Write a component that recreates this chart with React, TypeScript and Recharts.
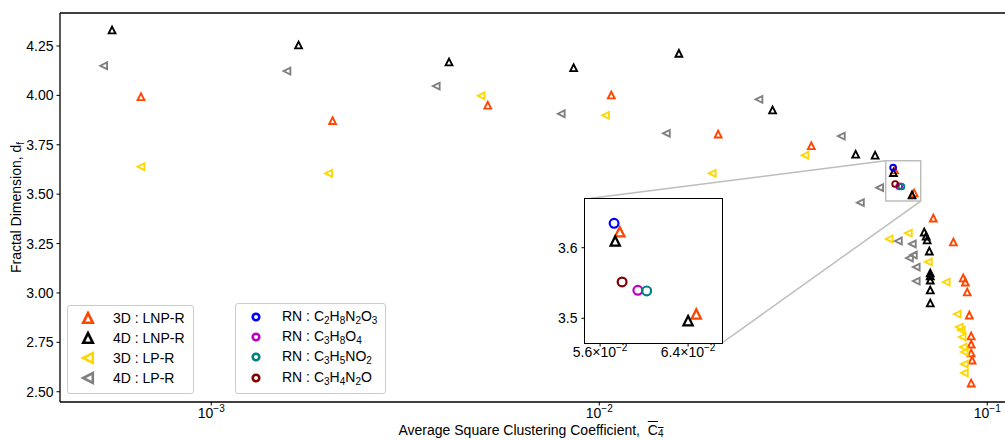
import React from 'react';
import { ScatterChart, Scatter, XAxis, YAxis, ReferenceArea, ReferenceLine } from 'recharts';

const FONT = '"Liberation Sans", Arial, Helvetica, sans-serif';

// ---------- data ----------
const lnp3dX = [6.59e-4, 2.054e-3, 5.16e-3, 0.01074, 0.02025, 0.0352, 0.0577, 0.0648, 0.0726, 0.0818, 0.0867, 0.0878, 0.0888, 0.0899, 0.0909, 0.0909, 0.0909, 0.0914, 0.0909];
const lnp3dY = [3.993, 3.872, 3.95, 4.002, 3.804, 3.745, 3.6226, 3.5061, 3.379, 3.258, 3.076, 3.055, 3.005, 2.888, 2.782, 2.741, 2.696, 2.66, 2.544];

const lnp4dX = [5.55e-4, 1.679e-3, 4.1e-3, 8.59e-3, 0.01604, 0.02797, 0.0458, 0.0514, 0.0573, 0.064, 0.0688, 0.0696, 0.07, 0.0709, 0.0713, 0.0713, 0.0713, 0.0713, 0.0713];
const lnp4dY = [4.331, 4.255, 4.169, 4.14, 4.213, 3.926, 3.702, 3.697, 3.6095, 3.4966, 3.308, 3.288, 3.268, 3.212, 3.101, 3.086, 3.065, 3.015, 2.949];

const lp3dX = [6.59e-4, 2.006e-3, 4.96e-3, 0.01038, 0.01955, 0.0339, 0.0559, 0.0626, 0.0705, 0.0784, 0.0837, 0.0847, 0.0857, 0.0862, 0.0867, 0.0873, 0.0873, 0.0873];
const lp3dY = [3.639, 3.605, 3.998, 3.899, 3.605, 3.697, 3.273, 3.303, 3.157, 3.055, 2.893, 2.827, 2.812, 2.777, 2.726, 2.701, 2.64, 2.595];

const lp4dX = [5.28e-4, 1.567e-3, 3.8e-3, 7.98e-3, 0.01489, 0.0258, 0.04205, 0.0528, 0.0471, 0.059, 0.0641, 0.0645, 0.063, 0.0656, 0.0656];
const lp4dY = [4.15, 4.123, 4.047, 3.907, 3.808, 3.98, 3.794, 3.533, 3.457, 3.263, 3.248, 3.192, 3.177, 3.131, 3.06];

const rnFormulas = ['C2H8N2O3', 'C3H8O4', 'C3H5NO2', 'C3H4N2O'];
const rnX = [0.0572, 0.0593, 0.0601, 0.0579];
const rnY = [3.6345, 3.5397, 3.5388, 3.5515];
const rnColors = ['#0000ff', '#bf00bf', '#008080', '#800000'];

const seriesLabels = ['3D : LNP-R', '4D : LNP-R', '3D : LP-R', '4D : LP-R'];
const seriesColors = ['#ff4500', '#000000', '#ffd700', '#808080'];
const seriesShapes = ['up', 'up', 'left', 'left'];

const mainXDomain = [4.075e-4, 0.1111];
const mainYDomain = [2.448, 4.417];
const mainXTicks = [0.001, 0.01, 0.1];
const mainYTicks = [2.5, 2.75, 3.0, 3.25, 3.5, 3.75, 4.0, 4.25];

const insetXDomain = [0.05473, 0.06738];
const insetYDomain = [3.465, 3.669];
const insetXTicks = [0.056, 0.064];
const insetYTicks = [3.5, 3.6];

// ---------- layout ----------
const W = 1005;
const H = 440;
const MAIN = { left: 60, top: 13, right: 1005, bottom: 402 };
const INSET = { left: 585, top: 199, right: 722, bottom: 343 };
const INSET_CHART = { left: 535, top: 190, width: 200, height: 190 };

const zip = (xs: number[], ys: number[]) => xs.map((x, i) => ({ x, y: ys[i] }));
const seriesData = [zip(lnp3dX, lnp3dY), zip(lnp4dX, lnp4dY), zip(lp3dX, lp3dY), zip(lp4dX, lp4dY)];
const rnData = rnX.map((x, i) => [{ x, y: rnY[i] }]);

// convert a page pixel into main-chart data coordinates (for connector lines)
const pxToMain = (px: number, py: number) => {
  const l0 = Math.log10(mainXDomain[0]);
  const l1 = Math.log10(mainXDomain[1]);
  const x = Math.pow(10, l0 + ((px - MAIN.left) / (MAIN.right - MAIN.left)) * (l1 - l0));
  const y = mainYDomain[1] - ((py - MAIN.top) / (MAIN.bottom - MAIN.top)) * (mainYDomain[1] - mainYDomain[0]);
  return { x, y };
};

// ---------- marker shapes ----------
const triPath = (kind: string, cx: number, cy: number, r: number) =>
  kind === 'up'
    ? `M${cx},${cy - r}L${cx + r},${cy + r}L${cx - r},${cy + r}Z`
    : `M${cx - r},${cy}L${cx + r},${cy - r}L${cx + r},${cy + r}Z`;

const makeTri = (kind: string, color: string, r: number, sw: number) => (props: any) => {
  const { cx, cy } = props;
  if (cx == null || cy == null) return <g />;
  return <path d={triPath(kind, cx, cy, r)} fill="none" stroke={color} strokeWidth={sw} strokeLinejoin="miter" />;
};

const makeCircle = (color: string, r: number, sw: number) => (props: any) => {
  const { cx, cy } = props;
  if (cx == null || cy == null) return <g />;
  return <circle cx={cx} cy={cy} r={r} fill="none" stroke={color} strokeWidth={sw} />;
};

// ---------- ticks ----------
const PowTick = (props: any) => {
  const { x, y, payload } = props;
  const exp = Math.round(Math.log10(payload.value));
  return (
    <text x={x} y={y + 9} textAnchor="middle" fontSize={14} fontFamily={FONT} fill="#000">
      <tspan>10</tspan>
      <tspan dy={-6} fontSize={10}>{'\u2212' + Math.abs(exp)}</tspan>
    </text>
  );
};

const SciTick = (props: any) => {
  const { x, y, payload } = props;
  const v = payload.value;
  const exp = Math.floor(Math.log10(v) + 1e-9);
  const mant = (v / Math.pow(10, exp)).toFixed(1);
  return (
    <text x={x} y={y + 8} textAnchor="middle" fontSize={14} fontFamily={FONT} fill="#000">
      <tspan>{mant + '\u00d710'}</tspan>
      <tspan dy={-6} fontSize={10}>{'\u2212' + Math.abs(exp)}</tspan>
    </text>
  );
};

const formula = (f: string) =>
  f
    .split(/(\d+)/)
    .filter(Boolean)
    .map((part, i) =>
      /\d/.test(part) ? (
        <span key={i} style={{ fontSize: 10, position: 'relative', top: 3 }}>{part}</span>
      ) : (
        <span key={i}>{part}</span>
      )
    );

const tickStyle = { fill: '#000', fontSize: 14, fontFamily: FONT };
const axisLineStyle = { stroke: '#000', strokeWidth: 1.3 };
const tickLineStyle = { stroke: '#000', strokeWidth: 1 };

export default function App() {
  const c1 = pxToMain(INSET.left, INSET.top);
  const c2 = pxToMain(INSET.right, INSET.bottom);
  const legend1Rows = [318, 338, 358, 378];
  const legend2Rows = [317, 337, 357, 378];

  return (
    <div style={{ position: 'absolute', left: 0, top: 0, width: W, height: H, background: '#fff', fontFamily: FONT, overflow: 'hidden' }}>
      {/* main chart */}
      <div style={{ position: 'absolute', left: 0, top: 0 }}>
        <ScatterChart width={W} height={H} margin={{ top: MAIN.top, right: W - MAIN.right, bottom: 0, left: 0 }}>
          <XAxis
            dataKey="x"
            type="number"
            scale="log"
            domain={mainXDomain}
            allowDataOverflow
            ticks={mainXTicks}
            tick={<PowTick />}
            height={H - MAIN.bottom}
            tickSize={3.5}
            tickMargin={3}
            axisLine={axisLineStyle}
            tickLine={tickLineStyle}
            interval={0}
          />
          <YAxis
            dataKey="y"
            type="number"
            domain={mainYDomain}
            allowDataOverflow
            ticks={mainYTicks}
            tickFormatter={(v: number) => v.toFixed(2)}
            tick={tickStyle}
            width={MAIN.left}
            tickSize={3.5}
            tickMargin={3}
            axisLine={axisLineStyle}
            tickLine={tickLineStyle}
            interval={0}
          />
          <ReferenceLine y={mainYDomain[1]} stroke="#000" strokeWidth={1.3} />
          <ReferenceArea
            x1={insetXDomain[0]}
            x2={insetXDomain[1]}
            y1={insetYDomain[0]}
            y2={insetYDomain[1]}
            fill="none"
            fillOpacity={0}
            stroke="#bdbdbd"
            strokeWidth={1.5}
          />
          <ReferenceLine
            segment={[{ x: insetXDomain[0], y: insetYDomain[1] }, { x: c1.x, y: c1.y }]}
            stroke="#bdbdbd"
            strokeWidth={1.5}
          />
          <ReferenceLine
            segment={[{ x: insetXDomain[1], y: insetYDomain[0] }, { x: c2.x, y: c2.y }]}
            stroke="#bdbdbd"
            strokeWidth={1.5}
          />
          {seriesData.map((d, i) => (
            <Scatter
              key={seriesLabels[i]}
              name={seriesLabels[i]}
              data={d}
              isAnimationActive={false}
              shape={makeTri(seriesShapes[i], seriesColors[i], 3.4, 1.9)}
            />
          ))}
          {rnData.map((d, i) => (
            <Scatter
              key={rnFormulas[i]}
              name={rnFormulas[i]}
              data={d}
              isAnimationActive={false}
              shape={makeCircle(rnColors[i], 2.9, 1.9)}
            />
          ))}
        </ScatterChart>
      </div>

      {/* inset background / frame */}
      <div
        style={{
          position: 'absolute',
          left: INSET.left - 0.65,
          top: INSET.top - 0.65,
          width: INSET.right - INSET.left + 1.3,
          height: INSET.bottom - INSET.top + 1.3,
          boxSizing: 'border-box',
          border: '1.3px solid #000',
          background: '#fff',
        }}
      />

      {/* inset chart */}
      <div style={{ position: 'absolute', left: INSET_CHART.left, top: INSET_CHART.top }}>
        <ScatterChart
          width={INSET_CHART.width}
          height={INSET_CHART.height}
          margin={{
            top: INSET.top - INSET_CHART.top,
            right: INSET_CHART.left + INSET_CHART.width - INSET.right,
            bottom: 0,
            left: 0,
          }}
        >
          <XAxis
            dataKey="x"
            type="number"
            scale="log"
            domain={insetXDomain}
            allowDataOverflow
            ticks={insetXTicks}
            tick={<SciTick />}
            height={INSET_CHART.top + INSET_CHART.height - INSET.bottom}
            tickSize={3.5}
            tickMargin={2}
            axisLine={false}
            tickLine={tickLineStyle}
            interval={0}
          />
          <YAxis
            dataKey="y"
            type="number"
            domain={insetYDomain}
            allowDataOverflow
            ticks={insetYTicks}
            tickFormatter={(v: number) => v.toFixed(1)}
            tick={tickStyle}
            width={INSET.left - INSET_CHART.left}
            tickSize={3.5}
            tickMargin={4}
            axisLine={false}
            tickLine={tickLineStyle}
            interval={0}
          />
          {seriesData.slice(0, 2).map((d, i) => (
            <Scatter
              key={seriesLabels[i]}
              data={d.filter((p) => p.x >= insetXDomain[0] && p.x <= insetXDomain[1] && p.y >= insetYDomain[0] && p.y <= insetYDomain[1])}
              isAnimationActive={false}
              shape={makeTri(seriesShapes[i], seriesColors[i], 4.6, 2.3)}
            />
          ))}
          {rnData.map((d, i) => (
            <Scatter
              key={rnFormulas[i]}
              data={d}
              isAnimationActive={false}
              shape={makeCircle(rnColors[i], 4.4, 2.2)}
            />
          ))}
        </ScatterChart>
      </div>

      {/* legend 1 */}
      <div
        style={{
          position: 'absolute',
          left: 67,
          top: 305,
          width: 127,
          height: 89,
          boxSizing: 'border-box',
          border: '1px solid #cccccc',
          borderRadius: 3,
          background: 'rgba(255,255,255,0.8)',
        }}
      />
      {seriesLabels.map((lab, i) => (
        <React.Fragment key={lab}>
          <svg style={{ position: 'absolute', left: 80, top: legend1Rows[i] - 8 }} width={16} height={16}>
            <path d={triPath(seriesShapes[i], 8, 8, 4.8)} fill="none" stroke={seriesColors[i]} strokeWidth={2.6} />
          </svg>
          <div style={{ position: 'absolute', left: 113, top: legend1Rows[i] - 8, height: 16, lineHeight: '16px', fontSize: 14, color: '#000', whiteSpace: 'nowrap' }}>
            {lab}
          </div>
        </React.Fragment>
      ))}

      {/* legend 2 */}
      <div
        style={{
          position: 'absolute',
          left: 235,
          top: 303,
          width: 151,
          height: 91,
          boxSizing: 'border-box',
          border: '1px solid #cccccc',
          borderRadius: 3,
          background: 'rgba(255,255,255,0.8)',
        }}
      />
      {rnFormulas.map((f, i) => (
        <React.Fragment key={f}>
          <svg style={{ position: 'absolute', left: 248, top: legend2Rows[i] - 8 }} width={16} height={16}>
            <circle cx={8} cy={8} r={3.3} fill="none" stroke={rnColors[i]} strokeWidth={2.6} />
          </svg>
          <div style={{ position: 'absolute', left: 282, top: legend2Rows[i] - 9, height: 16, lineHeight: '16px', fontSize: 14, color: '#000', whiteSpace: 'nowrap' }}>
            {'RN : '}
            {formula(f)}
          </div>
        </React.Fragment>
      ))}

      {/* axis labels */}
      <svg style={{ position: 'absolute', left: 0, top: 0, pointerEvents: 'none' }} width={W} height={H}>
        <text transform={`translate(21, ${(MAIN.top + MAIN.bottom) / 2}) rotate(-90)`} textAnchor="middle" fontSize={14} fontFamily={FONT} fill="#000">
          <tspan>Fractal Dimension, d</tspan>
          <tspan fontSize={10} dy={3}>f</tspan>
        </text>
      </svg>
      <div style={{ position: 'absolute', left: 0, width: 1062, top: 422, textAlign: 'center', fontSize: 14, lineHeight: '16px', color: '#000', whiteSpace: 'pre' }}>
        {'Average Square Clustering Coefficient,  '}
        <span style={{ textDecoration: 'overline' }}>
          C<span style={{ fontSize: 10, position: 'relative', top: 2 }}>4</span>
        </span>
      </div>
    </div>
  );
}
